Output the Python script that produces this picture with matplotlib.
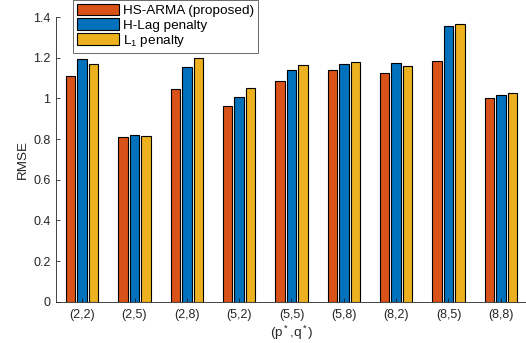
import numpy as np
import matplotlib.pyplot as plt

plt.rcParams['font.family'] = ['Liberation Sans', 'DejaVu Sans']
plt.rcParams['mathtext.fontset'] = 'custom'
plt.rcParams['mathtext.rm'] = 'Liberation Sans'
plt.rcParams['mathtext.it'] = 'Liberation Sans'

labels = ["(2,2)", "(2,5)", "(2,8)", "(5,2)", "(5,5)", "(5,8)", "(8,2)", "(8,5)", "(8,8)"]
hs_arma = [1.11, 0.809, 1.045, 0.96, 1.086, 1.137, 1.125, 1.182, 1.004]
h_lag = [1.195, 0.82, 1.153, 1.009, 1.137, 1.169, 1.176, 1.356, 1.015]
l1_pen = [1.171, 0.814, 1.2, 1.051, 1.163, 1.179, 1.161, 1.364, 1.026]

names = ["HS-ARMA (proposed)", "H-Lag penalty", "L$_1$ penalty"]
colors = ["#D95319", "#0072BD", "#EDB120"]

fig = plt.figure(figsize=(5.26, 3.43), dpi=100)
ax = fig.add_axes([56/526, 1-301.7/343, 471/526, 284.7/343])

x = np.arange(1, len(labels)+1)
w = 0.18
off = 0.22
for i, (vals, c, n) in enumerate(zip([hs_arma, h_lag, l1_pen], colors, names)):
    ax.bar(x + (i-1)*off, vals, w, color=c, edgecolor='black', linewidth=0.8, label=n)

ax.set_xlim(0.5, 9.5)
ax.set_ylim(0, 1.4)
ax.set_yticks([0, 0.2, 0.4, 0.6, 0.8, 1.0, 1.2, 1.4])
ax.set_yticklabels(["0", "0.2", "0.4", "0.6", "0.8", "1", "1.2", "1.4"])
ax.set_xticks(x)
ax.set_xticklabels(labels)
gray = "#262626"
ax.tick_params(direction='in', length=3, labelsize=9, colors=gray, width=0.6)
ax.tick_params(axis='x', pad=5)
ax.tick_params(axis='y', pad=4)
for s in ['top', 'right']:
    ax.spines[s].set_visible(False)
for s in ['left', 'bottom']:
    ax.spines[s].set_color(gray)
    ax.spines[s].set_linewidth(0.6)
ax.set_ylabel("RMSE", fontsize=9.7, color=gray, labelpad=3)
ax.set_xlabel("(p$^*$,q$^*$)", fontsize=9.7, color=gray, labelpad=2)

leg = ax.legend(loc='upper left', bbox_to_anchor=(73/526, 1.0), bbox_transform=fig.transFigure,
                fontsize=9.7, frameon=True, fancybox=False, handlelength=3.1, handleheight=0.9,
                borderpad=0.3, labelspacing=0.08, handletextpad=0.3, borderaxespad=0)
leg.get_frame().set_edgecolor(gray)
leg.get_frame().set_linewidth(0.6)

fig.savefig("out.png", dpi=100)
